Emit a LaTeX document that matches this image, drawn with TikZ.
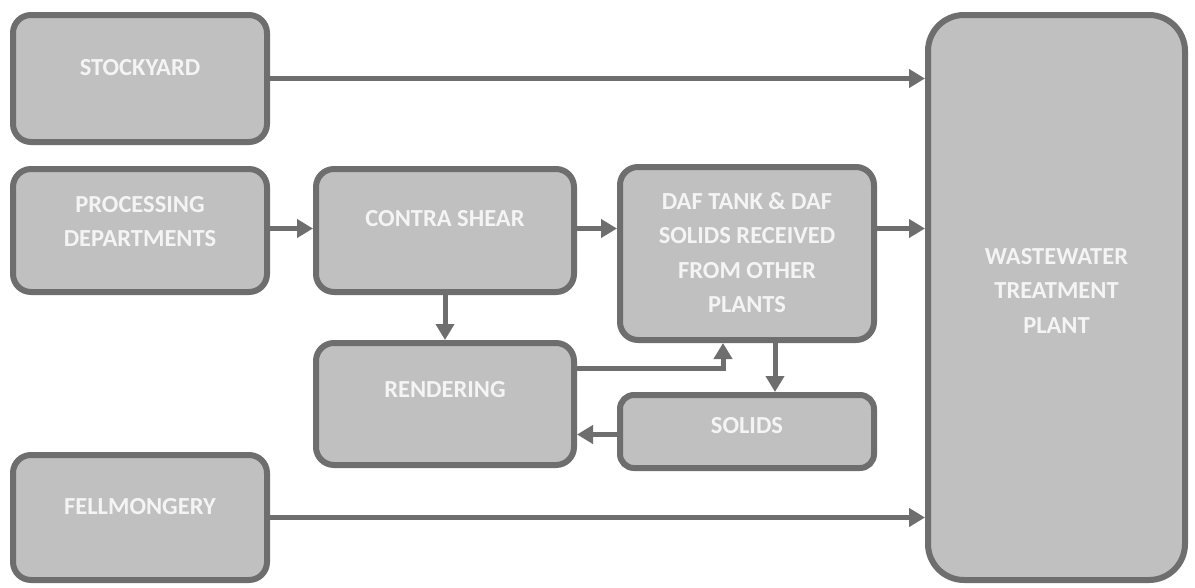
\documentclass[tikz,border=0pt]{standalone}
\usepackage{fontspec}
\setmainfont{Carlito}
\usetikzlibrary{arrows.meta}
\definecolor{boxfill}{HTML}{C0C0C0}
\definecolor{boxline}{HTML}{6E6E6E}
\definecolor{txtcol}{HTML}{F4F4F4}
\begin{document}
\begin{tikzpicture}[x=1pt,y=-1pt,
  box/.style={draw=boxline,fill=boxfill,line width=6pt,rounded corners=18pt,inner sep=0pt},
  lbl/.style={text=txtcol,font=\fontsize{24.5}{34.5}\selectfont\bfseries,align=center,inner sep=0pt},
  conn/.style={draw=boxline,line width=5pt,-{Triangle[length=16pt,width=18pt]}}]
\useasboundingbox (0,0) rectangle (1195,587);
\node[box,minimum width=254pt,minimum height=127pt] (st) at (140,78.5) {};
\node[box,minimum width=254pt,minimum height=123pt] (pr) at (140,230.5) {};
\node[box,minimum width=258pt,minimum height=123pt] (cs) at (445,230.5) {};
\node[box,minimum width=254pt,minimum height=173pt] (daf) at (747,253.5) {};
\node[box,minimum width=258pt,minimum height=122pt] (ren) at (445,404) {};
\node[box,minimum width=254pt,minimum height=73pt,rounded corners=14pt] (sol) at (747,431.5) {};
\node[box,minimum width=254pt,minimum height=125pt] (fe) at (140,517.5) {};
\node[box,minimum width=257pt,minimum height=565pt,rounded corners=36pt] (ww) at (1056.5,297.5) {};
\node[lbl] (tst) at ([yshift=11pt]st.center) {STOCKYARD};
\node[lbl] (tpr) at ([yshift=9pt]pr.center) {PROCESSING\\DEPARTMENTS};
\node[lbl] (tcs) at ([yshift=12pt]cs.center) {CONTRA SHEAR};
\node[lbl] (tdaf) at ([yshift=1pt]daf.center) {DAF TANK \& DAF\\SOLIDS RECEIVED\\FROM OTHER\\PLANTS};
\node[lbl] (tren) at ([yshift=14pt]ren.center) {RENDERING};
\node[lbl] (tsol) at ([yshift=6pt]sol.center) {SOLIDS};
\node[lbl] (tfe) at ([yshift=11pt]fe.center) {FELLMONGERY};
\node[lbl] (tww) at ([yshift=7pt]ww.center) {WASTEWATER\\TREATMENT\\PLANT};
\coordinate (csE) at ([yshift=2pt]cs.east);
\coordinate (renE) at ([yshift=36pt]ren.east);
\coordinate (dafS1) at ([xshift=-24pt]daf.south);
\coordinate (dafS2) at ([xshift=28pt]daf.south);
\coordinate (solW) at ([yshift=-3pt]sol.west);
\draw[conn] (st.east) -- (ww.west |- st.east);
\draw[conn] ([yshift=2pt]pr.east) -- ([yshift=2pt]cs.west);
\draw[conn] (csE) -- (daf.west |- csE);
\draw[conn] (daf.east |- csE) -- (ww.west |- csE);
\draw[conn] (cs.south) -- (ren.north);
\draw[conn] (renE) -| (dafS1);
\draw[conn] (dafS2) -- (sol.north -| dafS2);
\draw[conn] (solW) -- (ren.east |- solW);
\draw[conn] (fe.east) -- (ww.west |- fe.east);
\end{tikzpicture}
\end{document}
